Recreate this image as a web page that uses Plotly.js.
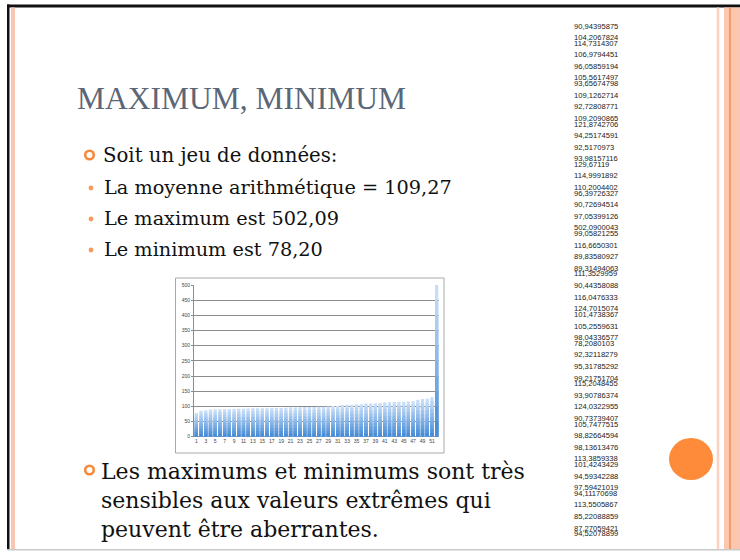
<!DOCTYPE html>
<html>
<head>
<meta charset="utf-8">
<script src="https://cdn.plot.ly/plotly-3.0.1.min.js"></script>
<style>html,body{margin:0;padding:0;background:#fff;}#chart{width:740px;height:560px;}</style>
</head>
<body>
<div id="chart"></div>
<script>
// ---- data (column of values shown on the slide, in order) ----
const values = [90.94395875,104.2067824,114.7314307,106.9794451,96.05859194,105.5617497,93.65674798,
109.1262714,92.72808771,109.2090865,121.8742706,94.25174591,92.5170973,93.98157116,129.67119,
114.9991892,110.2004402,96.39726327,90.72694514,97.05399126,502.0900043,99.05821255,116.6650301,
89.83580927,89.31494063,111.3529959,90.44358088,116.0476333,124.7015074,101.4738367,105.2559631,
98.04336577,78.2080103,92.32118279,95.31785292,99.21751704,115.2048455,93.90786374,124.0322955,
90.73739407,105.7477515,98.82664594,98.13613476,113.3859338,101.4243429,94.59342288,97.59421019,
94.11170698,113.5505867,85.22088859,87.27059421,94.52078899];
const xTickVals = [1,3,5,7,9,11,13,15,17,19,21,23,25,27,29,31,33,35,37,39,41,43,45,47,49,51];
const yTickVals = [0,50,100,150,200,250,300,350,400,450,500];
const titleText = "MAXIMUM, MINIMUM";
const bullet1 = "Soit un jeu de données:";
const subBullets = ["La moyenne arithmétique = 109,27","Le maximum est 502,09","Le minimum est 78,20"];
const bullet2Lines = ["Les maximums et minimums sont très","sensibles aux valeurs extrêmes qui","peuvent être aberrantes."];

// ---- layout helpers ----
const W = 740, H = 560;
const fx = x => x / W;
const fy = y => 1 - y / H;

const sorted = values.slice().sort((a, b) => a - b);
const cats = sorted.map((v, i) => i + 1);

// per-bar vertical gradient drawn as overlaid bands
const N = 10;
const topC = [200, 222, 248], botC = [74, 141, 214];
const traces = [];
for (let k = 0; k < N; k++) {
  const f = 1 - k / N;
  const t = k / (N - 1);
  const c = topC.map((a, j) => Math.round(a + (botC[j] - a) * t));
  traces.push({
    type: 'bar', x: cats, y: sorted.map(v => v * f),
    marker: {color: `rgb(${c[0]},${c[1]},${c[2]})`, line: {width: 0}},
    hoverinfo: 'skip', showlegend: false
  });
}

const shapes = [];
const rect = (x0, y0, x1, y1, fill, extra) => shapes.push(Object.assign({
  type: 'rect', xref: 'paper', yref: 'paper',
  x0: fx(x0), x1: fx(x1), y0: fy(y1), y1: fy(y0),
  fillcolor: fill, line: {width: 0}, layer: 'below'}, extra || {}));
const circ = (cx, cy, rx, ry, fill, line) => shapes.push({
  type: 'circle', xref: 'paper', yref: 'paper',
  x0: fx(cx - rx), x1: fx(cx + rx), y0: fy(cy + ry), y1: fy(cy - ry),
  fillcolor: fill, line: line || {width: 0}, layer: 'above'});

// slide frame
rect(7, 4.5, 740, 7.5, '#111111');
rect(7, 4.5, 9.5, 550, '#111111');
rect(7, 549, 740, 550.5, '#c9c9c9');
rect(11, 7.5, 15, 549, '#fbc6b1');
rect(716.7, 7.5, 719.3, 549, '#fcd3c3');
rect(724, 7.5, 740, 549, '#fcc7b1');
rect(729.3, 7.5, 730.7, 549, '#f5894a');
circ(691, 459, 22, 21, '#fd8b3a');
// chart frame
rect(175.5, 278, 444, 453, 'rgba(0,0,0,0)', {line: {color: '#a9a9a9', width: 1}});
// bullets
circ(89.5, 155, 4.3, 4.3, 'rgba(0,0,0,0)', {color: '#f7893a', width: 2.6});
circ(89.5, 470, 4.3, 4.3, 'rgba(0,0,0,0)', {color: '#f7893a', width: 2.6});
[188, 219, 250].forEach(y => circ(91, y, 2.4, 2.4, '#f79a5e'));

const annotations = [];
const txt = (text, x, y, size, family, color) => annotations.push({
  text: text, x: fx(x), y: fy(y), xref: 'paper', yref: 'paper',
  xanchor: 'left', yanchor: 'middle', showarrow: false,
  font: {size: size, family: family, color: color}});

txt(titleText, 75, 98, 31.5, 'Liberation Serif', '#5b6677');
txt(bullet1, 101, 155, 19.7, 'DejaVu Serif', '#111111');
subBullets.forEach((s, i) => txt(s, 102, [188, 219, 250][i], 19.3, 'DejaVu Serif', '#111111'));
bullet2Lines.forEach((s, i) => txt(s, 99, [471, 500, 529][i], 22, 'DejaVu Serif', '#111111'));

// number column
const smallGapAfter = [2,6,10,14,17,21,25,29,32,36,40,44,47,51];
let yy = 26;
values.forEach((v, i) => {
  txt(String(v).replace('.', ','), 572, yy, 7.6, 'Liberation Sans', '#222222');
  yy += smallGapAfter.includes(i + 1) ? 5.6 : 11.6;
});

const layout = {
  width: W, height: H,
  margin: {l: 0, r: 0, t: 0, b: 0},
  paper_bgcolor: '#ffffff', plot_bgcolor: 'rgba(0,0,0,0)',
  barmode: 'overlay', bargap: 0.3,
  showlegend: false,
  xaxis: {
    domain: [fx(194), fx(439)], range: [0.5, 52.5],
    tickmode: 'array', tickvals: xTickVals, ticktext: xTickVals.map(String),
    tickfont: {size: 5, family: 'Liberation Sans', color: '#444'},
    showgrid: false, zeroline: false, showline: false, ticks: '', ticklen: 0,
    fixedrange: true
  },
  yaxis: {
    domain: [fy(436.7), fy(285)], range: [0, 500],
    tickmode: 'array', tickvals: yTickVals, ticktext: yTickVals.map(String),
    tickfont: {size: 5, family: 'Liberation Sans', color: '#444'},
    showgrid: true, gridcolor: '#8c8c8c', gridwidth: 1,
    zeroline: true, zerolinecolor: '#8c8c8c', zerolinewidth: 1,
    showline: true, linecolor: '#8c8c8c', linewidth: 1,
    ticks: 'outside', ticklen: 2, tickcolor: '#8c8c8c',
    fixedrange: true
  },
  shapes: shapes,
  annotations: annotations
};

Plotly.newPlot('chart', traces, layout, {displayModeBar: false, staticPlot: true});
</script>
</body>
</html>
